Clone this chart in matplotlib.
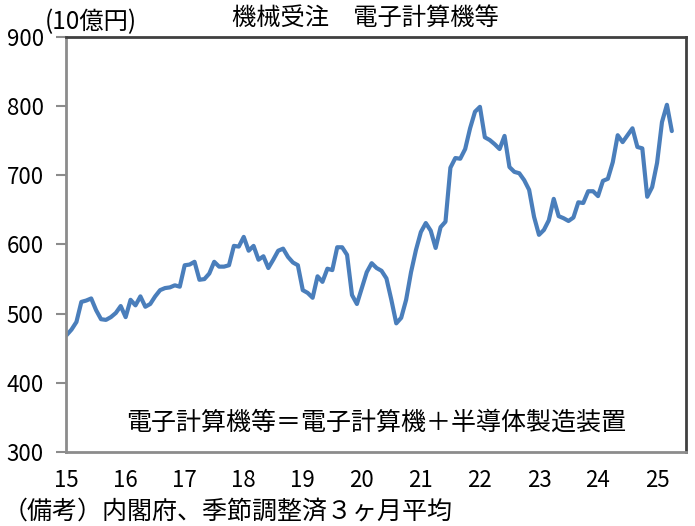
import matplotlib
matplotlib.use("Agg")
import matplotlib.pyplot as plt
import numpy as np

plt.rcParams['font.family'] = ['Noto Sans CJK JP', 'DejaVu Sans']

start_year = 2015
values = [
    # 2015
    469, 477, 488, 517, 519, 522, 505, 492, 491, 495, 501, 511,
    # 2016
    495, 520, 512, 525, 510, 514, 525, 534, 537, 538, 541, 539,
    # 2017
    570, 571, 575, 549, 550, 558, 575, 568, 568, 570, 598, 597,
    # 2018
    611, 591, 598, 578, 583, 566, 578, 591, 594, 582, 574, 570,
    # 2019
    534, 530, 523, 554, 546, 565, 563, 596, 596, 585, 527, 514,
    # 2020
    537, 560, 573, 566, 562, 551, 520, 486, 494, 520, 560, 592,
    # 2021
    618, 631, 620, 595, 625, 633, 711, 725, 724, 738, 768, 792,
    # 2022
    799, 755, 751, 745, 738, 757, 712, 705, 703, 693, 679, 640,
    # 2023
    614, 621, 635, 666, 641, 638, 634, 639, 661, 660, 677, 677,
    # 2024
    670, 692, 695, 719, 758, 748, 758, 768, 741, 739, 669, 683,
    # 2025
    718, 777, 802, 764,
]
tick_years = list(range(2015, 2026))
tick_labels = ['15', '16', '17', '18', '19', '20', '21', '22', '23', '24', '25']
y_ticks = [300, 400, 500, 600, 700, 800, 900]

title = '機械受注　電子計算機等'
unit = '(10億円)'
note = '電子計算機等＝電子計算機＋半導体製造装置'
source = '（備考）内閣府、季節調整済３ヶ月平均'

x = start_year + np.arange(len(values)) / 12.0

W, H = 695, 526
fig = plt.figure(figsize=(W / 100, H / 100), dpi=100)
ax = fig.add_axes([66 / W, 1 - 452 / H, (686 - 66) / W, (452 - 37) / H])

ax.plot(x, values, color='#4a7ebb', lw=3.0, solid_joinstyle='round', solid_capstyle='round')

ax.set_xlim(2014.99, 2025.49)
ax.set_ylim(300, 900)
ax.set_xticks(tick_years)
ax.set_xticklabels(tick_labels)
ax.set_yticks(y_ticks)

for s in ['left', 'bottom']:
    ax.spines[s].set_color('#8c8c8c')
    ax.spines[s].set_linewidth(2)
for s in ['top', 'right']:
    ax.spines[s].set_color('#404040')
    ax.spines[s].set_linewidth(2)

ax.tick_params(axis='x', length=0, pad=12, labelsize=16)
ax.tick_params(axis='y', length=7, width=1.5, color='#8c8c8c', pad=9, labelsize=16, direction='out')

fig.text(365 / W, 1 - 18 / H, title, ha='center', va='center', fontsize=17.5)
fig.text(45 / W, 1 - 22 / H, unit, ha='left', va='center', fontsize=17.5)
ax.text(0.5, 1 - (423 - 37) / (452 - 37), note, transform=ax.transAxes,
        ha='center', va='center', fontsize=18)
fig.text(3 / W, 1 - 512 / H, source, ha='left', va='center', fontsize=18)

fig.savefig('out.png', dpi=100)
